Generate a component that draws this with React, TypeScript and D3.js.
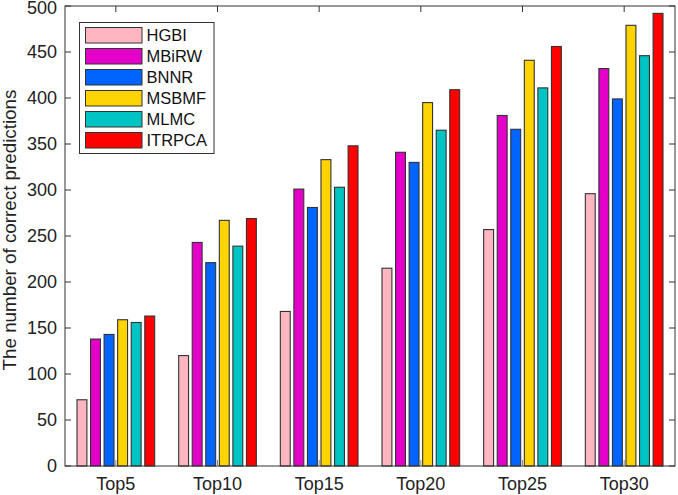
import React, { useEffect, useRef } from "react";
import * as d3 from "d3";

const categories = ["Top5", "Top10", "Top15", "Top20", "Top25", "Top30"];
const methods = ["HGBI", "MBiRW", "BNNR", "MSBMF", "MLMC", "ITRPCA"];
const colors = ["#FFB6C1", "#E400C8", "#0064FF", "#FFD400", "#00C4C4", "#FF0000"];

const hgbi = [72, 120, 168, 215, 257, 296];
const mbirw = [138, 243, 301, 341, 381, 432];
const bnnr = [143, 221, 281, 330, 366, 399];
const msbmf = [159, 267, 333, 395, 441, 479];
const mlmc = [156, 239, 303, 365, 411, 446];
const itrpca = [163, 269, 348, 409, 456, 492];
const seriesValues = [hgbi, mbirw, bnnr, msbmf, mlmc, itrpca];

const yTicks = d3.range(0, 501, 50);

const width = 678;
const height = 495;
const margin = { top: 6, right: 3, bottom: 29, left: 65 };

export default function App() {
  const svgRef = useRef<SVGSVGElement>(null);

  useEffect(() => {
    document.body.style.margin = "0";
    const svg = d3.select(svgRef.current);
    svg.selectAll("*").remove();

    const x0 = margin.left;
    const x1 = width - margin.right;
    const y0 = height - margin.bottom;
    const y1 = margin.top;

    const x = d3.scaleBand<string>().domain(categories).range([x0, x1]).padding(0);
    const groupW = x.bandwidth() * 0.8;
    const xs = d3.scaleBand<string>()
      .domain(methods)
      .range([-groupW / 2, groupW / 2])
      .paddingInner(0.27)
      .paddingOuter(0.135);
    const y = d3.scaleLinear().domain([0, 500]).range([y0, y1]);

    const font = "'Liberation Sans', Arial, Helvetica, sans-serif";
    const axisColor = "#333";

    // bars
    methods.forEach((m, i) => {
      svg.append("g")
        .selectAll("rect")
        .data(seriesValues[i])
        .join("rect")
        .attr("x", (_, j) => x(categories[j])! + x.bandwidth() / 2 + xs(m)!)
        .attr("y", d => y(d))
        .attr("width", xs.bandwidth())
        .attr("height", d => y0 - y(d))
        .attr("fill", colors[i])
        .attr("stroke", "#333")
        .attr("stroke-width", 1.1);
    });

    // box
    svg.append("rect")
      .attr("x", x0).attr("y", y1)
      .attr("width", x1 - x0).attr("height", y0 - y1)
      .attr("fill", "none").attr("stroke", axisColor).attr("stroke-width", 1);

    const tickLen = 6;
    // y ticks, both sides
    const yt = svg.append("g");
    yTicks.forEach(t => {
      yt.append("line").attr("x1", x0).attr("x2", x0 + tickLen).attr("y1", y(t)).attr("y2", y(t)).attr("stroke", axisColor);
      yt.append("line").attr("x1", x1).attr("x2", x1 - tickLen).attr("y1", y(t)).attr("y2", y(t)).attr("stroke", axisColor);
      yt.append("text")
        .attr("x", x0 - 8)
        .attr("y", Math.max(y(t), 8))
        .attr("dy", "0.36em")
        .attr("text-anchor", "end")
        .attr("font-family", font)
        .attr("font-size", 18)
        .attr("fill", "#222")
        .text(t);
    });

    // x ticks, both sides
    const xt = svg.append("g");
    categories.forEach(c => {
      const cx = x(c)! + x.bandwidth() / 2;
      xt.append("line").attr("x1", cx).attr("x2", cx).attr("y1", y0).attr("y2", y0 - tickLen).attr("stroke", "#888");
      xt.append("line").attr("x1", cx).attr("x2", cx).attr("y1", y1).attr("y2", y1 + tickLen).attr("stroke", axisColor);
      xt.append("text")
        .attr("x", cx)
        .attr("y", y0 + 24)
        .attr("text-anchor", "middle")
        .attr("font-family", font)
        .attr("font-size", 18)
        .attr("fill", "#222")
        .text(c);
    });

    // y label
    svg.append("text")
      .attr("transform", `translate(16,230) rotate(-90)`)
      .attr("text-anchor", "middle")
      .attr("font-family", font)
      .attr("font-size", 18.8)
      .attr("fill", "#222")
      .text("The number of correct predictions");

    // legend
    const lg = svg.append("g").attr("transform", "translate(79.5,22.5)");
    lg.append("rect")
      .attr("width", 134.5).attr("height", 131)
      .attr("fill", "#fff").attr("stroke", axisColor);
    methods.forEach((m, i) => {
      const row = lg.append("g").attr("transform", `translate(0,${5 + i * 21})`);
      row.append("rect")
        .attr("x", 6).attr("y", 0)
        .attr("width", 56.5).attr("height", 15.5)
        .attr("fill", colors[i]).attr("stroke", "#333");
      row.append("text")
        .attr("x", 67)
        .attr("y", 8)
        .attr("dy", "0.36em")
        .attr("font-family", font)
        .attr("font-size", 16.5)
        .attr("fill", "#111")
        .text(m);
    });
  }, []);

  return <svg ref={svgRef} width={width} height={height} style={{ display: "block", background: "#fff" }} />;
}
